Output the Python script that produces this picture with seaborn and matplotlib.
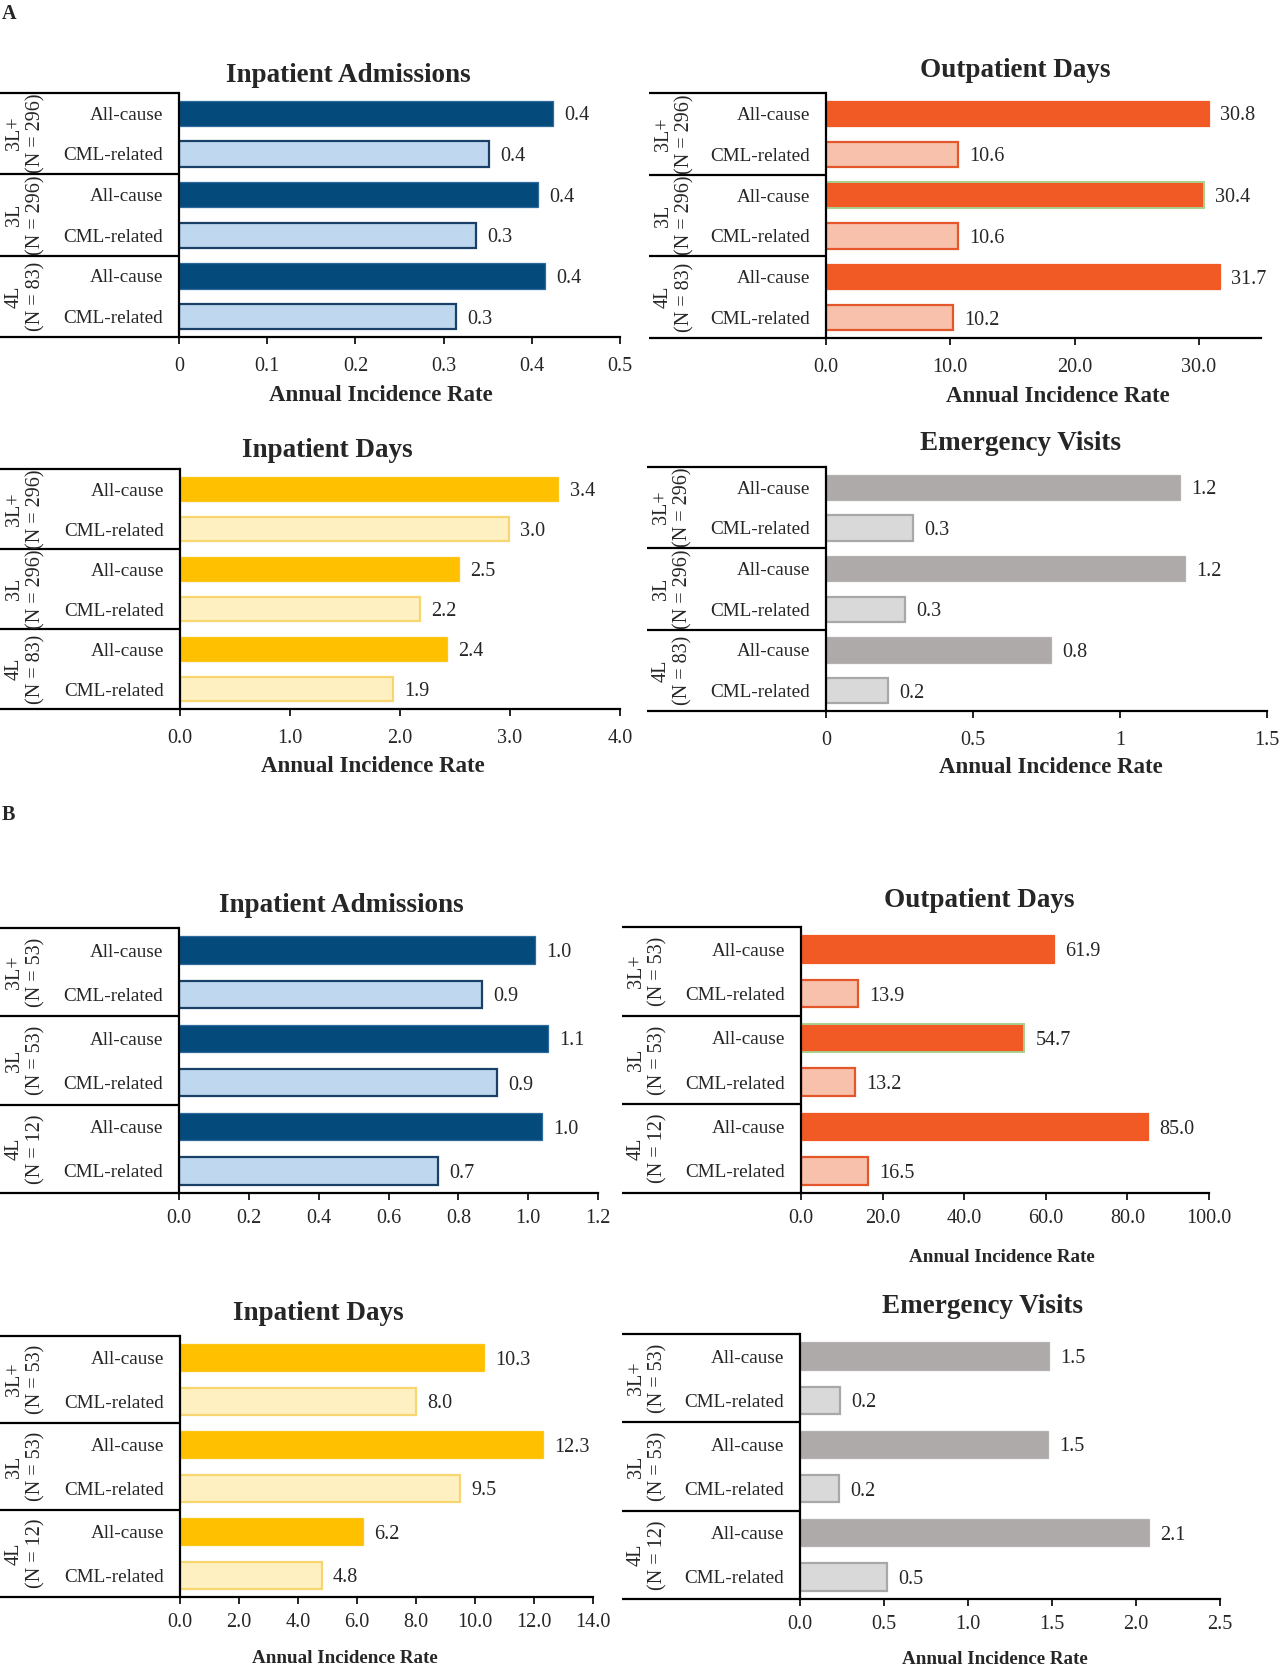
# Annual incidence rates by line of therapy, panels A and B
import pandas as pd
import matplotlib
matplotlib.use("Agg")
import matplotlib.pyplot as plt
import seaborn as sns

sns.set_theme(style="white")
plt.rcParams['font.family'] = ['Liberation Serif', 'DejaVu Serif']

# --- data -------------------------------------------------------------
lines = ["3L+", "3L", "4L"]
kinds = ["All-cause", "CML-related"]
n_a = [296, 296, 83]
n_b = [53, 53, 12]

# values ordered 3L+ (all, cml), 3L (all, cml), 4L (all, cml)
a_inpatient_adm = [0.424, 0.352, 0.407, 0.337, 0.415, 0.314]
a_outpatient_days = [30.8, 10.6, 30.4, 10.6, 31.7, 10.2]
a_inpatient_days = [3.44, 2.99, 2.54, 2.18, 2.43, 1.94]
a_emergency = [1.204, 0.296, 1.22, 0.269, 0.766, 0.211]
b_inpatient_adm = [1.021, 0.868, 1.057, 0.912, 1.04, 0.743]
b_outpatient_days = [61.9, 13.9, 54.7, 13.2, 85.0, 16.5]
b_inpatient_days = [10.3, 8.0, 12.3, 9.5, 6.2, 4.8]
b_emergency = [1.48, 0.24, 1.476, 0.23, 2.08, 0.52]

ticks_a_adm = [0, 0.1, 0.2, 0.3, 0.4, 0.5]
ticklabels_a_adm = ["0", "0.1", "0.2", "0.3", "0.4", "0.5"]
ticks_a_out = [0, 10, 20, 30]
ticklabels_a_out = ["0.0", "10.0", "20.0", "30.0"]
ticks_a_days = [0, 1, 2, 3, 4]
ticklabels_a_days = ["0.0", "1.0", "2.0", "3.0", "4.0"]
ticks_a_er = [0, 0.5, 1, 1.5]
ticklabels_a_er = ["0", "0.5", "1", "1.5"]
ticks_b_adm = [0, 0.2, 0.4, 0.6, 0.8, 1.0, 1.2]
ticklabels_b_adm = ["0.0", "0.2", "0.4", "0.6", "0.8", "1.0", "1.2"]
ticks_b_out = [0, 20, 40, 60, 80, 100]
ticklabels_b_out = ["0.0", "20.0", "40.0", "60.0", "80.0", "100.0"]
ticks_b_days = [0, 2, 4, 6, 8, 10, 12, 14]
ticklabels_b_days = ["0.0", "2.0", "4.0", "6.0", "8.0", "10.0", "12.0", "14.0"]
ticks_b_er = [0, 0.5, 1.0, 1.5, 2.0, 2.5]
ticklabels_b_er = ["0.0", "0.5", "1.0", "1.5", "2.0", "2.5"]

# --- colours (all-cause fill, all-cause edge, cml fill, cml edge) --------
blue = ("#044A7B", "#2C6A9E", "#BFD8EF", "#1B4068")
orange = ("#F15A24", "#F15A24", "#F8C1AB", "#E4572A")
gold = ("#FFC000", "#FFC61A", "#FFF0C2", "#F7D670")
grey = ("#AEAAAA", "#B5B1B1", "#D9D9D9", "#A8A8A8")
green_edge = "#A9D08E"

W, H = 1280, 1667
fig = plt.figure(figsize=(W / 100, H / 100), dpi=100)
fig.patch.set_facecolor("white")


def fx(x):
    return x / W


def fy(y):
    return 1 - y / H


def draw_panel(vals, ns, title, ticks, ticklabels, xmax, colors,
               box, title_pos, xlabel_pos=None, xlabel_size=16.5,
               tick_pad=9.5, green=False):
    box_left, x0, x1, yt, yb = box
    ax = fig.add_axes([fx(x0), fy(yb), fx(x1 - x0), (yb - yt) / H])
    rows = [f"{l} {k}" for l in lines for k in kinds]
    df = pd.DataFrame({"row": rows, "kind": kinds * 3, "value": vals})
    pal = {r: colors[0] if i % 2 == 0 else colors[2] for i, r in enumerate(rows)}
    sns.barplot(data=df, x="value", y="row", hue="row", palette=pal,
                width=0.62, saturation=1, legend=False, errorbar=None,
                orient="h", ax=ax)
    for i, cont in enumerate(ax.containers):
        if i % 2 == 0:
            ec, lw = colors[1], 0.9
            if green and i == 2:
                ec, lw = green_edge, 1.4
        else:
            ec, lw = colors[3], 1.6
        for bar in cont:
            bar.set_edgecolor(ec)
            bar.set_linewidth(lw)
        for t in ax.bar_label(cont, fmt="%.1f", padding=8, fontsize=14.5):
            t.set_verticalalignment("center_baseline")

    ax.set_xlim(0, xmax)
    ax.set_ylim(5.5, -0.5)
    ax.set_xticks(ticks, ticklabels)
    ax.set_yticks(range(6), kinds * 3)
    ax.set_xlabel("")
    ax.set_ylabel("")
    for s in ["top", "right"]:
        ax.spines[s].set_visible(False)
    for s in ["left", "bottom"]:
        ax.spines[s].set_color("black")
        ax.spines[s].set_linewidth(1.6)
    ax.tick_params(axis="x", bottom=True, direction="out", length=5,
                   width=1.2, color="black", pad=tick_pad, labelsize=14.5)
    ax.tick_params(axis="y", left=False, length=0, pad=11.5, labelsize=13.8)

    # label box to the left of the bars
    bl = (box_left - x0) / (x1 - x0)
    for y in [0, 1 / 3, 2 / 3, 1]:
        ax.plot([bl, 0], [y, y], transform=ax.transAxes, color="black",
                lw=1.6, clip_on=False, solid_capstyle="butt")
    for g, (l, n) in enumerate(zip(lines, ns)):
        yc = yt + (yb - yt) * (2 * g + 1) / 6
        fig.text(fx(box_left + 25), fy(yc), f"{l}\n(N = {n})", rotation=90,
                 ha="center", va="center", multialignment="center",
                 fontsize=14.5, linespacing=1.15)

    fig.text(fx(title_pos[0]), fy(title_pos[1]), title, ha="center",
             va="baseline", fontsize=19.5, fontweight="bold")
    if xlabel_pos is not None:
        fig.text(fx(xlabel_pos[0]), fy(xlabel_pos[1]), "Annual Incidence Rate",
                 ha="center", va="baseline", fontsize=xlabel_size,
                 fontweight="bold")
    return ax


# panel A
draw_panel(a_inpatient_adm, n_a, "Inpatient Admissions", ticks_a_adm,
           ticklabels_a_adm, 0.5, blue, (0, 179, 620, 93, 337),
           (348, 82), (381, 401))
draw_panel(a_outpatient_days, n_a, "Outpatient Days", ticks_a_out,
           ticklabels_a_out, 35, orange, (649, 826, 1261, 93, 338),
           (1015, 77), (1058, 402), green=True)
draw_panel(a_inpatient_days, n_a, "Inpatient Days", ticks_a_days,
           ticklabels_a_days, 4, gold, (0, 180, 620, 469, 709),
           (327, 457), (373, 772))
draw_panel(a_emergency, n_a, "Emergency Visits", ticks_a_er,
           ticklabels_a_er, 1.5, grey, (647, 826, 1267, 467, 711),
           (1020, 450), (1051, 773))

# panel B
draw_panel(b_inpatient_adm, n_b, "Inpatient Admissions", ticks_b_adm,
           ticklabels_b_adm, 1.2, blue, (0, 179, 598, 928, 1193),
           (341, 912), None, tick_pad=6.5)
draw_panel(b_outpatient_days, n_b, "Outpatient Days", ticks_b_out,
           ticklabels_b_out, 100, orange, (622, 801, 1209, 927, 1193),
           (979, 907), (1002, 1262), xlabel_size=13.7, tick_pad=6.5, green=True)
draw_panel(b_inpatient_days, n_b, "Inpatient Days", ticks_b_days,
           ticklabels_b_days, 14, gold, (0, 180, 593, 1336, 1597),
           (318, 1320), (345, 1663), xlabel_size=13.7, tick_pad=6.5)
draw_panel(b_emergency, n_b, "Emergency Visits", ticks_b_er,
           ticklabels_b_er, 2.5, grey, (622, 800, 1220, 1334, 1599),
           (983, 1313), (995, 1664), xlabel_size=13.7, tick_pad=6.5)

fig.text(fx(2), fy(19), "A", ha="left", va="baseline", fontsize=14.5,
         fontweight="bold")
fig.text(fx(2), fy(820), "B", ha="left", va="baseline", fontsize=14.5,
         fontweight="bold")

fig.savefig("out.png", dpi=100, facecolor="white")
